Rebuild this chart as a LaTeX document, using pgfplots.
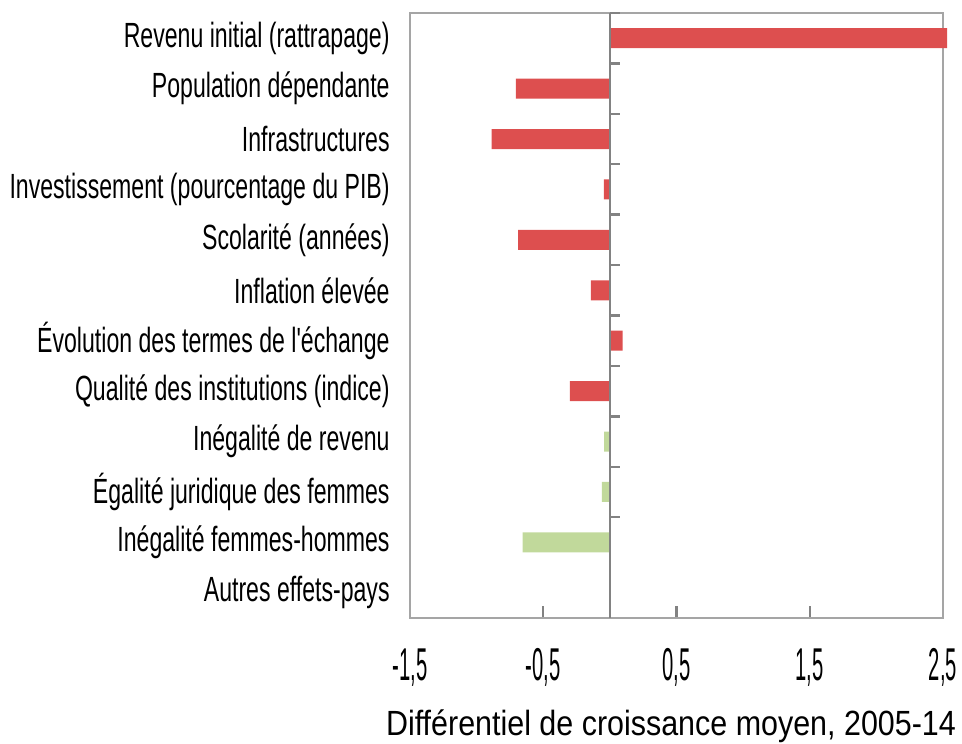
\documentclass[border=0pt]{standalone}
\usepackage{pgfplots}
\pgfplotsset{compat=1.18}
\usepackage{fontspec}
\setmainfont{Liberation Sans}
\newfontfamily\labfam[FakeStretch=0.66]{Liberation Sans}
\newfontfamily\tickfam[FakeStretch=0.44]{Liberation Sans}
\newfontfamily\xlabfam[FakeStretch=0.87]{Liberation Sans}
\definecolor{barred}{RGB}{221,79,79}
\definecolor{bargreen}{RGB}{193,217,155}
\definecolor{axgray}{RGB}{165,165,165}
\definecolor{zerogray}{RGB}{130,130,130}
\begin{document}
\begin{tikzpicture}
\begin{axis}[
  scale only axis, width=266.5pt, height=302.5pt,
  xmin=-1.5, xmax=2.5, ymin=-0.5, ymax=11.5, y dir=reverse,
  xbar, bar width=10pt, clip=false,
  axis line style={axgray, line width=1.2pt},
  xtick={-1.5,-0.5,0.5,1.5,2.5},
  xticklabels={{-1,5},{-0,5},{0,5},{1,5},{2,5}},
  xtick pos=left, tick align=inside, major tick length=6pt,
  x tick style={zerogray, line width=1.2pt},
  xticklabel style={font=\tickfam\fontsize{23}{23}\selectfont, inner sep=0pt, anchor=north, yshift=-15pt},
  ytick={0,...,11},
  yticklabels={Revenu initial (rattrapage),Population dépendante,Infrastructures,Investissement (pourcentage du PIB),Scolarité (années),Inflation élevée,Évolution des termes de l'échange,Qualité des institutions (indice),Inégalité de revenu,Égalité juridique des femmes,Inégalité femmes-hommes,Autres effets-pays},
  ytick pos=left, y tick style={draw=none},
  yticklabel style={font=\labfam\fontsize{17.5}{19}\selectfont, inner sep=0pt, anchor=east, xshift=-10pt},
  xlabel={Différentiel de croissance moyen, 2005-14},
  every axis x label/.style={at={(axis description cs:0.5,0)}, anchor=base, yshift=-58.5pt, xshift=-2.75pt, font=\xlabfam\fontsize{17.5}{20}\selectfont},
]
\addplot[fill=barred, draw=none, bar shift=0pt] coordinates {
  (2.53,0) (-0.705,1) (-0.888,2) (-0.045,3) (-0.688,4) (-0.143,5) (0.095,6) (-0.30,7)
};
\addplot[fill=bargreen, draw=none, bar shift=0pt] coordinates {
  (-0.043,8) (-0.06,9) (-0.655,10)
};
\draw[zerogray, line width=1.2pt] (axis cs:0,-0.5) -- (axis cs:0,11.5);
\pgfplotsinvokeforeach{0,...,10}{
  \draw[zerogray, line width=1.2pt] (axis cs:0,#1-0.5) -- ([xshift=5pt]axis cs:0,#1-0.5);
}
\end{axis}
\path (current axis.south west) ++(-205pt,-62.5pt) coordinate (bl);
\path (current axis.north east) ++(9.5pt,6.5pt) coordinate (tr);
\pgfresetboundingbox
\path (bl) rectangle (tr);
\end{tikzpicture}
\end{document}
